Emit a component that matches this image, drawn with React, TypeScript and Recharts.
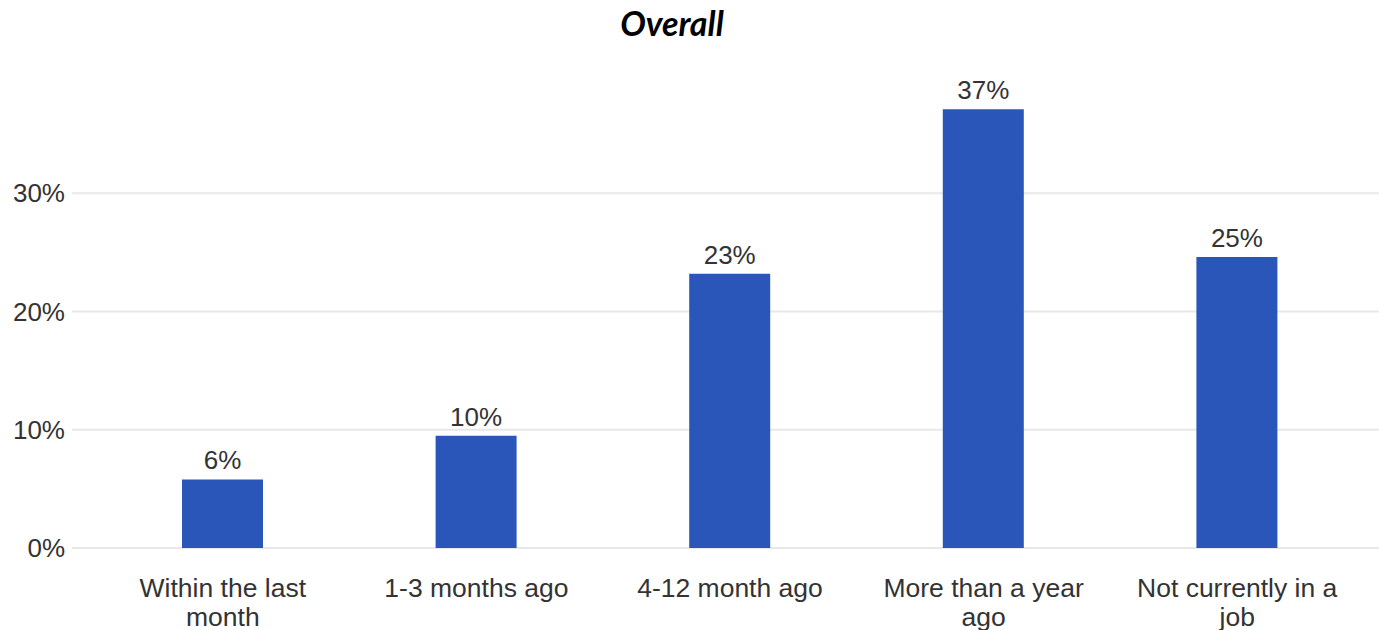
import React from "react";
import { BarChart, Bar, XAxis, YAxis, CartesianGrid, LabelList } from "recharts";

const categories = [
  "Within the last month",
  "1-3 months ago",
  "4-12 month ago",
  "More than a year ago",
  "Not currently in a job",
];
const tickLines = [
  ["Within the last", "month"],
  ["1-3 months ago"],
  ["4-12 month ago"],
  ["More than a year", "ago"],
  ["Not currently in a", "job"],
];
const values = [5.8, 9.5, 23.2, 37.1, 24.6];
const yTicks = [0, 10, 20, 30];

const data = categories.map((c, i) => ({ name: c, value: values[i] }));

const FONT = "'Liberation Sans', Arial, sans-serif";

const XTick = (props: any) => {
  const { x, y, payload } = props;
  const idx = categories.indexOf(payload.value);
  const lines = tickLines[idx] || [payload.value];
  return (
    <text x={x} y={y} textAnchor="middle" fill="#333333" fontSize={26.5} fontFamily={FONT}>
      {lines.map((l, i) => (
        <tspan key={i} x={x} y={y + 49 + i * 29}>
          {l}
        </tspan>
      ))}
    </text>
  );
};

export default function App() {
  return (
    <div style={{ position: "absolute", left: 0, top: 0, width: 1379, height: 630, background: "#fff" }}>
      <div
        style={{
          position: "absolute",
          left: 522,
          width: 300,
          top: 3,
          textAlign: "center",
          fontFamily: "Lato, sans-serif",
          fontWeight: 700,
          fontStyle: "italic",
          fontSize: 34,
          color: "#000",
          lineHeight: "40px",
        }}
      >
        Overall
      </div>
      <BarChart
        width={1379}
        height={630}
        data={data}
        margin={{ top: 75, right: 0, bottom: 0, left: 0 }}
      >
        <CartesianGrid
          vertical={false}
          stroke="#e8e8e8"
          strokeWidth={2}
          horizontalValues={yTicks}
        />
        <XAxis
          dataKey="name"
          axisLine={false}
          tickLine={false}
          tickSize={0}
          tickMargin={0}
          height={82}
          interval={0}
          padding={{ left: 24, right: 15 }}
          tick={<XTick />}
        />
        <YAxis
          width={72}
          domain={[0, 40]}
          ticks={yTicks}
          axisLine={false}
          tickLine={false}
          tickSize={0}
          tickMargin={7}
          tickFormatter={(v: number) => `${v}%`}
          tick={{ fill: "#333333", fontSize: 26, fontFamily: FONT }}
        />
        <Bar dataKey="value" fill="#2a56ba" barSize={81} isAnimationActive={false}>
          <LabelList
            dataKey="value"
            position="top"
            offset={10}
            formatter={(v: any) => `${Math.round(Number(v))}%`}
            fill="#333333"
            fontSize={26}
            fontFamily={FONT}
          />
        </Bar>
      </BarChart>
    </div>
  );
}
